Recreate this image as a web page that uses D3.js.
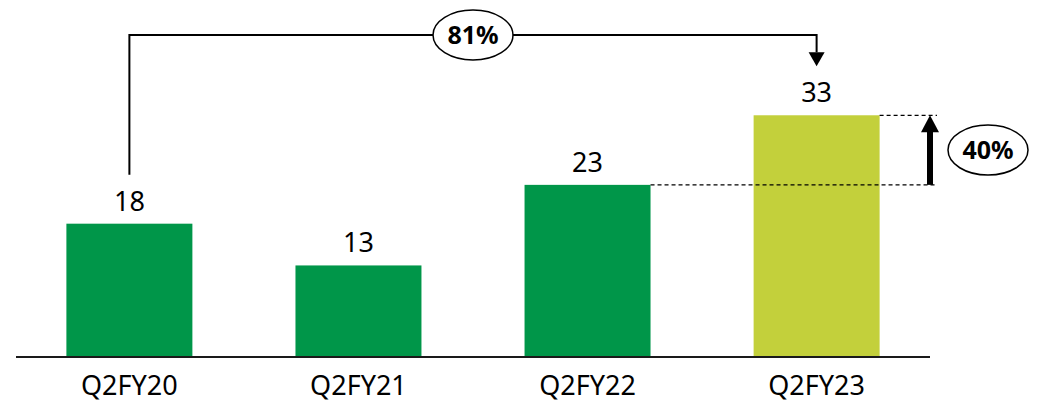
<!DOCTYPE html>
<html>
<head>
<meta charset="utf-8">
<script src="https://cdn.jsdelivr.net/npm/d3@7"></script>
<style>
  body { margin: 0; background: #fff; }
  text { font-family: "Noto Sans", "Open Sans", sans-serif; }
</style>
</head>
<body>
<div id="chart"></div>
<script>
// data
var categories = ["Q2FY20", "Q2FY21", "Q2FY22", "Q2FY23"];
var values = [18.2, 12.5, 23.5, 33.0];
var valueLabels = ["18", "13", "23", "33"];
var barColors = ["#009649", "#009649", "#009649", "#C3D03B"];
var growthLabels = ["81%", "40%"];

var width = 1038, height = 411;

var svg = d3.select("#chart").append("svg")
  .attr("width", width)
  .attr("height", height);

var x = d3.scaleBand()
  .domain(categories)
  .range([16, 930])
  .paddingInner(0.45)
  .paddingOuter(0.22);

var y = d3.scaleLinear()
  .domain([0, 40])
  .range([357, 64]);

//-----------------------------------------------------------------------
// bars

svg.selectAll("rect.bar")
  .data(values)
  .enter()
  .append("rect")
  .attr("class", "bar")
  .attr("x", function (d, i) { return x(categories[i]); })
  .attr("y", function (d) { return y(d); })
  .attr("width", x.bandwidth())
  .attr("height", function (d) { return y(0) - y(d); })
  .attr("fill", function (d, i) { return barColors[i]; });

// value labels
svg.selectAll("text.val")
  .data(values)
  .enter()
  .append("text")
  .attr("class", "val")
  .attr("x", function (d, i) { return x(categories[i]) + x.bandwidth() / 2; })
  .attr("y", function (d) { return y(d) - 13; })
  .attr("text-anchor", "middle")
  .attr("font-size", 27)
  .attr("fill", "#000")
  .text(function (d, i) { return valueLabels[i]; });

// x axis
var xAxis = svg.append("g")
  .attr("transform", "translate(0," + y(0) + ")")
  .call(d3.axisBottom(x).tickSize(0).tickPadding(14));
xAxis.select(".domain")
  .attr("d", "M16,0H930")
  .attr("stroke", "#1a1a1a")
  .attr("stroke-width", 2);
xAxis.selectAll(".tick text")
  .attr("font-size", 27)
  .attr("font-family", "Noto Sans, Open Sans, sans-serif")
  .attr("fill", "#000")
  .attr("dy", "0.9em");

//-----------------------------------------------------------------------
// 81% bracket: Q2FY20 -> Q2FY23

var cx0 = x(categories[0]) + x.bandwidth() / 2;
var cx3 = x(categories[3]) + x.bandwidth() / 2;
var bracketY = 35;
var startY = y(values[0]) - 49;
var tipY = y(values[3]) - 49;

svg.append("path")
  .attr("d", "M" + cx0 + "," + startY + "V" + bracketY + "H" + cx3 + "V" + (tipY - 14))
  .attr("fill", "none")
  .attr("stroke", "#000")
  .attr("stroke-width", 2);

svg.append("path")
  .attr("d", "M" + (cx3 - 8) + "," + (tipY - 14) + "L" + (cx3 + 8) + "," + (tipY - 14) + "L" + cx3 + "," + tipY + "Z")
  .attr("fill", "#000");

var midX = (cx0 + cx3) / 2;
svg.append("ellipse")
  .attr("cx", midX)
  .attr("cy", bracketY)
  .attr("rx", 40)
  .attr("ry", 25)
  .attr("fill", "#fff")
  .attr("stroke", "#000")
  .attr("stroke-width", 1.5);
svg.append("text")
  .attr("x", midX)
  .attr("y", bracketY + 9)
  .attr("text-anchor", "middle")
  .attr("font-size", 25)
  .attr("font-weight", "bold")
  .text(growthLabels[0]);

//-----------------------------------------------------------------------
// 40% growth: Q2FY22 -> Q2FY23

var y22 = y(values[2]);
var y23 = y(values[3]);
var dashEnd = 937;
var arrowX = 930;

svg.append("line")
  .attr("x1", x(categories[2]) + x.bandwidth())
  .attr("x2", dashEnd)
  .attr("y1", y22)
  .attr("y2", y22)
  .attr("stroke", "#000")
  .attr("stroke-width", 1.3)
  .attr("stroke-dasharray", "4,3");

svg.append("line")
  .attr("x1", x(categories[3]) + x.bandwidth())
  .attr("x2", dashEnd)
  .attr("y1", y23)
  .attr("y2", y23)
  .attr("stroke", "#000")
  .attr("stroke-width", 1.3)
  .attr("stroke-dasharray", "4,3");

svg.append("line")
  .attr("x1", arrowX)
  .attr("x2", arrowX)
  .attr("y1", y22)
  .attr("y2", y23 + 15)
  .attr("stroke", "#000")
  .attr("stroke-width", 6);

svg.append("path")
  .attr("d", "M" + (arrowX - 9) + "," + (y23 + 17) + "L" + (arrowX + 9) + "," + (y23 + 17) + "L" + arrowX + "," + y23 + "Z")
  .attr("fill", "#000");

var pcY = (y22 + y23) / 2;
svg.append("ellipse")
  .attr("cx", 988)
  .attr("cy", pcY)
  .attr("rx", 40)
  .attr("ry", 25)
  .attr("fill", "#fff")
  .attr("stroke", "#000")
  .attr("stroke-width", 1.5);
svg.append("text")
  .attr("x", 988)
  .attr("y", pcY + 9)
  .attr("text-anchor", "middle")
  .attr("font-size", 25)
  .attr("font-weight", "bold")
  .text(growthLabels[1]);
</script>
</body>
</html>
